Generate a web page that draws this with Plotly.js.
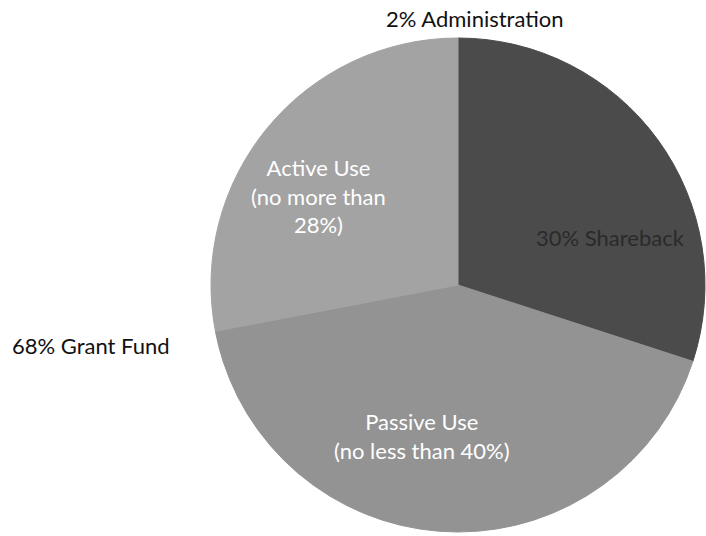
<!DOCTYPE html>
<html>
<head>
<meta charset="utf-8">
<script src="https://cdn.plot.ly/plotly-3.0.1.min.js"></script>
<style>html,body{margin:0;padding:0;background:#fff;}#chart{width:706px;height:536px;}</style>
</head>
<body>
<div id="chart"></div>
<script>
var sliceLabels = ["30% Shareback", "Passive Use (no less than 40%)", "2% Administration", "Active Use (no more than 28%)"];
var sliceValues = [30, 40, 2, 28];
var sliceColors = ["#4b4b4b", "#939393", "#939393", "#a3a3a3"];
var outerLabels = ["2% Administration", "68% Grant Fund"];

var FONT = "Lato, 'Open Sans', sans-serif";

var trace = {
  type: "pie",
  labels: sliceLabels,
  values: sliceValues,
  sort: false,
  direction: "clockwise",
  rotation: 0,
  textinfo: "none",
  hoverinfo: "label+value",
  marker: {colors: sliceColors, line: {color: sliceColors, width: 1}},
  domain: {x: [211/706, 705/706], y: [1 - 532/536, 1 - 38/536]},
  showlegend: false
};

var inside = [
  {text: "Active Use<br>(no more than<br>28%)", x: 318, y: 196, color: "#ffffff"},
  {text: "30% Shareback", x: 610, y: 237, color: "#2a2a2a"},
  {text: "Passive Use<br>(no less than 40%)", x: 422, y: 436, color: "#ffffff"}
];

var annotations = inside.map(function(a){
  return {text: a.text, x: a.x/706, y: 1 - a.y/536, xref: "paper", yref: "paper",
    showarrow: false, xanchor: "center", yanchor: "middle",
    font: {family: FONT, size: 22, color: a.color}};
});
annotations.push({text: outerLabels[0], x: 475/706, y: 1 - 18/536, xref: "paper", yref: "paper",
  showarrow: false, xanchor: "center", yanchor: "middle", font: {family: FONT, size: 22, color: "#111"}});
annotations.push({text: outerLabels[1], x: 10/706, y: 1 - 345/536, xref: "paper", yref: "paper",
  showarrow: false, xanchor: "left", yanchor: "middle", font: {family: FONT, size: 22, color: "#111"}});

var layout = {
  width: 706, height: 536,
  margin: {l: 0, r: 0, t: 0, b: 0},
  paper_bgcolor: "#ffffff",
  annotations: annotations
};

Plotly.newPlot("chart", [trace], layout, {displayModeBar: false, staticPlot: true});
</script>
</body>
</html>
